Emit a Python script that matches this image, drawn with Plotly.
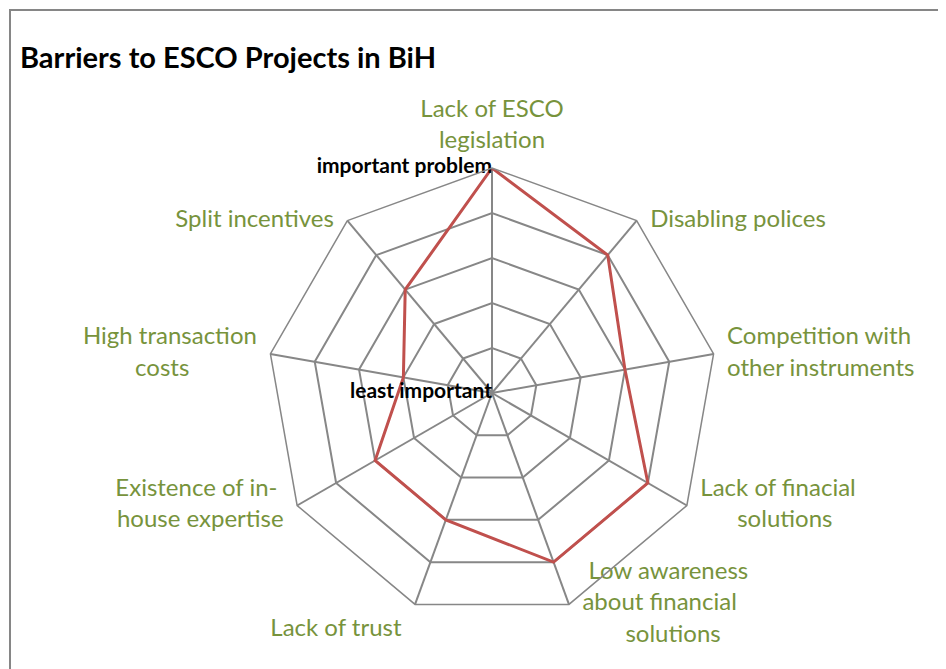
import plotly.graph_objects as go

# barrier categories, clockwise from the top
categories = [
    "Lack of ESCO<br>legislation",
    "Disabling polices",
    "Competition with<br>other instruments",
    "Lack of finacial<br>solutions",
    "Low awareness<br>about financial<br>solutions",
    "Lack of trust",
    "Existence of in-<br>house expertise",
    "High transaction<br>costs",
    "Split incentives",
]
importance = [5, 4, 3, 4, 4, 3, 3, 2, 3]

scale_vals = [0, 1, 2, 3, 4, 5]
scale_label_r = [0.001, 5]
scale_label_text = ["least important", "important problem"]

FONT = "Lato"
GRID = "#878787"
GREEN = "#77933C"
W, H = 938, 661  # page body has an 8px margin

# where each category label sits relative to its spoke end
label_pos = ["top center", "middle right", "middle right", "middle right", "middle right",
             "bottom left", "middle left", "middle left", "middle left"]
# same labels, padded so the short lines look centred like in Excel
NB = "&nbsp;"
label_text = list(categories)
label_text[3] = "Lack of finacial<br>" + NB * 6 + "solutions"
label_text[4] = NB + "Low awareness<br>about financial<br>" + NB * 7 + "solutions"
label_text[6] = "Existence of in-" + NB + "<br>house expertise"
label_text[7] = "High transaction<br>costs" + NB * 11

fig = go.Figure()
fig.add_trace(go.Scatterpolar(
    r=importance + importance[:1],
    theta=categories + categories[:1],
    mode="lines",
    line=dict(color="#C0504D", width=3),
    showlegend=False,
    hoverinfo="skip",
))
# category labels at the outer ring (invisible markers push the text off the vertex)
fig.add_trace(go.Scatterpolar(
    r=[max(scale_vals)] * len(categories),
    theta=categories,
    mode="markers+text",
    marker=dict(size=20, color="rgba(0,0,0,0)"),
    text=label_text,
    textposition=label_pos,
    textfont=dict(size=24, color=GREEN, family=FONT),
    cliponaxis=False,
    showlegend=False,
    hoverinfo="skip",
))
# scale labels on the first spoke
fig.add_trace(go.Scatterpolar(
    r=scale_label_r,
    theta=[categories[0]] * len(scale_label_r),
    mode="text",
    text=scale_label_text,
    textposition="middle left",
    textfont=dict(size=21, color="black", family=FONT, weight="bold"),
    cliponaxis=False,
    showlegend=False,
    hoverinfo="skip",
))

fig.update_layout(
    width=W, height=H,
    margin=dict(l=0, r=0, t=0, b=0),
    paper_bgcolor="white",
    font=dict(family=FONT),
    title=dict(
        text="<b>Barriers to ESCO Projects in BiH</b>",
        x=12 / W, xanchor="left", xref="paper",
        y=1 - 50 / H, yanchor="middle",
        font=dict(size=29, color="black", family=FONT),
    ),
    polar=dict(
        domain=dict(x=[259 / W, 709 / W], y=[1 - 610 / H, 1 - 160 / H]),
        gridshape="linear",
        bgcolor="white",
        angularaxis=dict(
            direction="clockwise", rotation=90,
            showgrid=True, gridcolor=GRID, gridwidth=1.5,
            showline=True, linecolor=GRID, linewidth=1.5,
            ticks="", showticklabels=False,
        ),
        radialaxis=dict(
            range=[0, 5], angle=90,
            tickvals=scale_vals, showticklabels=False,
            showgrid=True, gridcolor=GRID, gridwidth=1.5,
            showline=False, ticks="",
        ),
    ),
    shapes=[dict(
        type="rect", xref="paper", yref="paper",
        x0=2 / W, x1=1.05, y0=-0.05, y1=1 - 2 / H,
        line=dict(color="#868686", width=2), fillcolor="rgba(0,0,0,0)",
    )],
)

fig.write_html("out.html")
